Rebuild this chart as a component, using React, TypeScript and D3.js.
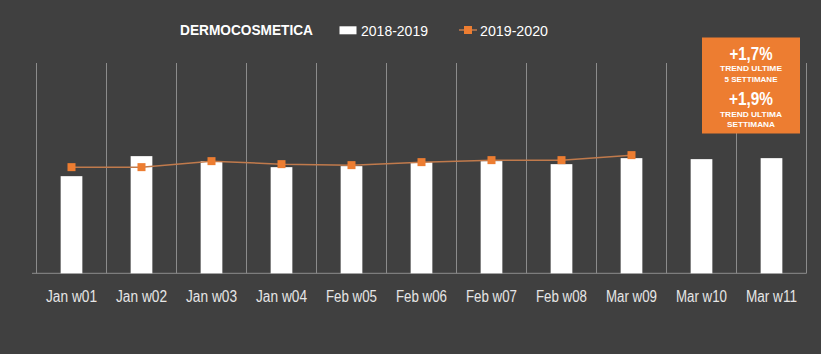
import React from "react";
import * as d3 from "d3";

const categories = ["Jan w01","Jan w02","Jan w03","Jan w04","Feb w05","Feb w06","Feb w07","Feb w08","Mar w09","Mar w10","Mar w11"];
const series2018 = [97, 117, 112, 106, 107, 111, 112, 109, 115, 114, 115];
const series2019 = [106, 106, 112, 109, 108, 111, 113, 113, 118];
const boxLines = [
  { text: "+1,7%", size: 19, y: 60, len: 43 },
  { text: "TREND ULTIME", size: 8, y: 71, len: 62 },
  { text: "5 SETTIMANE", size: 8, y: 81.7, len: 53 },
  { text: "+1,9%", size: 19, y: 105, len: 44 },
  { text: "TREND ULTIMA", size: 8, y: 116.5, len: 62 },
  { text: "SETTIMANA", size: 8, y: 127.3, len: 48 },
];

export default function App() {
  const W = 821, H = 354;
  const left = 36.5, right = 806.5, top = 63, bottom = 273.3;
  const x = d3.scaleBand<string>().domain(categories).range([left, right]).padding(0);
  const y = d3.scaleLinear().domain([0, 210]).range([bottom, top]);
  const bw = x.bandwidth();
  const barW = bw * 0.31;
  const font = "'Liberation Sans', Arial, sans-serif";
  const lineGen = d3.line<number>()
    .x((_, i) => (x(categories[i]) as number) + bw / 2)
    .y((d) => y(d));
  const boundaries = categories.map((c) => x(c) as number).concat([right]);
  const orange = "#ED7D31";

  return (
    <svg width={W} height={H} style={{ position: "absolute", left: 0, top: 0, display: "block" }}>
      <rect x={0} y={0} width={W} height={H} fill="#404040" />
      {boundaries.map((bx, i) => (
        <line key={"g" + i} x1={bx} x2={bx} y1={top} y2={bottom} stroke="#8c8c8c" strokeWidth={1} />
      ))}
      <line x1={32} x2={right} y1={bottom} y2={bottom} stroke="#8c8c8c" strokeWidth={1} />
      {series2018.map((v, i) => (
        <rect key={"b" + i} x={(x(categories[i]) as number) + (bw - barW) / 2} y={y(v)} width={barW} height={bottom - y(v)} fill="#ffffff" />
      ))}
      <path d={lineGen(series2019) || ""} fill="none" stroke="#C07A4C" strokeWidth={1.5} />
      {series2019.map((v, i) => (
        <rect key={"m" + i} x={(x(categories[i]) as number) + bw / 2 - 4} y={y(v) - 4} width={8} height={8} fill={orange} />
      ))}
      {categories.map((c) => (
        <text key={"t" + c} x={(x(c) as number) + bw / 2} y={301.5} textAnchor="middle" fontFamily={font} fontSize={16} fill="#e6e6e6" textLength={51} lengthAdjust="spacingAndGlyphs">{c}</text>
      ))}
      <text x={180} y={35} fontFamily={font} fontSize={15} fontWeight="bold" fill="#ffffff" textLength={133} lengthAdjust="spacingAndGlyphs">DERMOCOSMETICA</text>
      <rect x={339.5} y={26.3} width={17} height={8} fill="#ffffff" />
      <text x={361} y={35.5} fontFamily={font} fontSize={15} fill="#ffffff" textLength={67} lengthAdjust="spacingAndGlyphs">2018-2019</text>
      <line x1={459} x2={477} y1={30} y2={30} stroke="#C07A4C" strokeWidth={1.5} />
      <rect x={464} y={26} width={8} height={8} fill={orange} />
      <text x={480} y={35.5} fontFamily={font} fontSize={15} fill="#ffffff" textLength={68} lengthAdjust="spacingAndGlyphs">2019-2020</text>
      <rect x={702} y={37.5} width={98} height={96} fill={orange} />
      {boxLines.map((b, i) => (
        <text key={"bx" + i} x={751} y={b.y} textAnchor="middle" fontFamily={font} fontSize={b.size} fontWeight="bold" fill="#ffffff" textLength={b.len} lengthAdjust="spacingAndGlyphs">{b.text}</text>
      ))}
    </svg>
  );
}
